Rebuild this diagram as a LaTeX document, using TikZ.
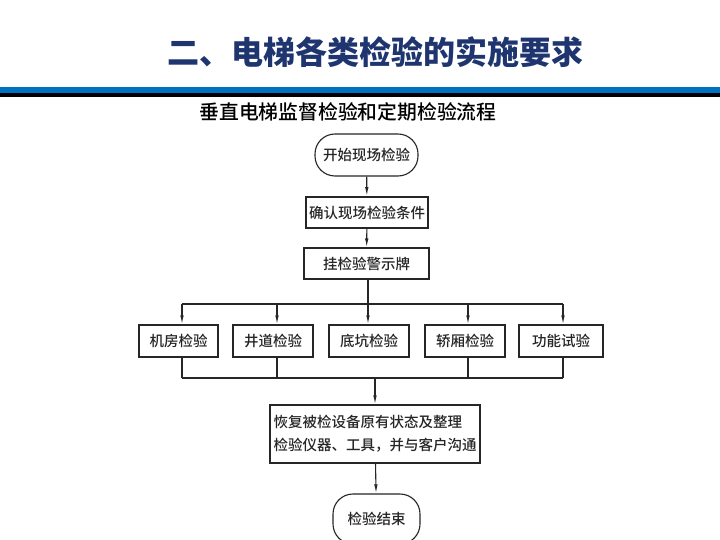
\documentclass[tikz,border=0pt]{standalone}
\usepackage{fontspec}
\setmainfont{Noto Sans CJK SC}
\newfontfamily\cjk{Noto Sans CJK SC}[UprightFont={* Medium}]
\newfontfamily\cjkt{Noto Sans CJK SC}
\usetikzlibrary{arrows.meta,calc}
\definecolor{titleblue}{HTML}{1F3570}
\definecolor{barblue}{HTML}{0070C0}
\begin{document}
\begin{tikzpicture}[x=1pt,y=-1pt,
  box/.style={draw=black!85,line width=1.1pt,rectangle,inner sep=0pt,font=\cjk\fontsize{14.5}{23}\selectfont,text=black!85},
  term/.style={box,rounded corners=20pt},
  arr/.style={-{Latex[length=9pt,width=3.5pt]},line width=1.1pt,draw=black!85},
  ln/.style={line width=1.1pt,draw=black!85}]
\useasboundingbox (0,0) rectangle (720,540);
\clip (0,0) rectangle (720,540);
\fill[white] (0,0) rectangle (720,540);
% header
\node[font=\cjkt\bfseries\fontsize{32}{36}\selectfont,text=titleblue] (title) at (375,52) {二、电梯各类检验的实施要求};
\fill[barblue] (0,87) rectangle (720,93);
\fill[black] (0,93) rectangle (720,97);
\node[font=\cjk\fontsize{19.8}{24}\selectfont] (sub) at (348,112) {垂直电梯监督检验和定期检验流程};
% flowchart nodes
\node[term,minimum width=103pt,minimum height=42pt] (start) at (366.5,155) {开始现场检验};
\node[box,line width=1.8pt,minimum width=122pt,minimum height=31pt] (conf) at (367,212.5) {确认现场检验条件};
\node[box,minimum width=125pt,minimum height=31pt] (sign) at (366.5,263.5) {挂检验警示牌};
\node[box,minimum width=79pt,minimum height=32pt] (m1) at (178.5,341) {机房检验};
\node[box,minimum width=80pt,minimum height=32pt] (m2) at (273,341) {井道检验};
\node[box,minimum width=80pt,minimum height=32pt] (m3) at (369,341) {底坑检验};
\node[box,minimum width=80pt,minimum height=32pt] (m4) at (465,341) {轿厢检验};
\node[box,minimum width=84pt,minimum height=32pt] (m5) at (561,341) {功能试验};
\node[box,minimum width=210pt,minimum height=58pt,align=left] (rest) at (375,434) {恢复被检设备原有状态及整理\\检验仪器、工具，并与客户沟通};
\node[term,minimum width=87pt,minimum height=50pt] (end) at (376.5,519) {检验结束};
% bar coordinates
\coordinate (t0) at (368,304);
\coordinate (t1) at (182,304);
\coordinate (t2) at (277,304);
\coordinate (t3) at (368,304);
\coordinate (t4) at (468,304);
\coordinate (t5) at (563,304);
\coordinate (b1) at (182,378);
\coordinate (b2) at (277,378);
\coordinate (b4) at (468,378);
\coordinate (b5) at (563,378);
\coordinate (bm) at (375,378);
% connectors
\draw[arr] (start) -- (conf);
\draw[arr] (conf) -- (sign);
\draw[ln] (sign.south -| t0) -- (t0);
\draw[ln] (t1) -- (t5);
\foreach \i in {1,...,5} {\draw[arr] (t\i) -- (t\i |- m\i.north);}
\draw[ln] (b1) -- (b5);
\draw[ln] (b1 |- m1.south) -- (b1);
\draw[ln] (b2 |- m2.south) -- (b2);
\draw[ln] (b4 |- m4.south) -- (b4);
\draw[ln] (b5 |- m5.south) -- (b5);
\draw[arr] (bm) -- (rest.north);
\draw[arr] (rest) -- (end);
\end{tikzpicture}
\end{document}
